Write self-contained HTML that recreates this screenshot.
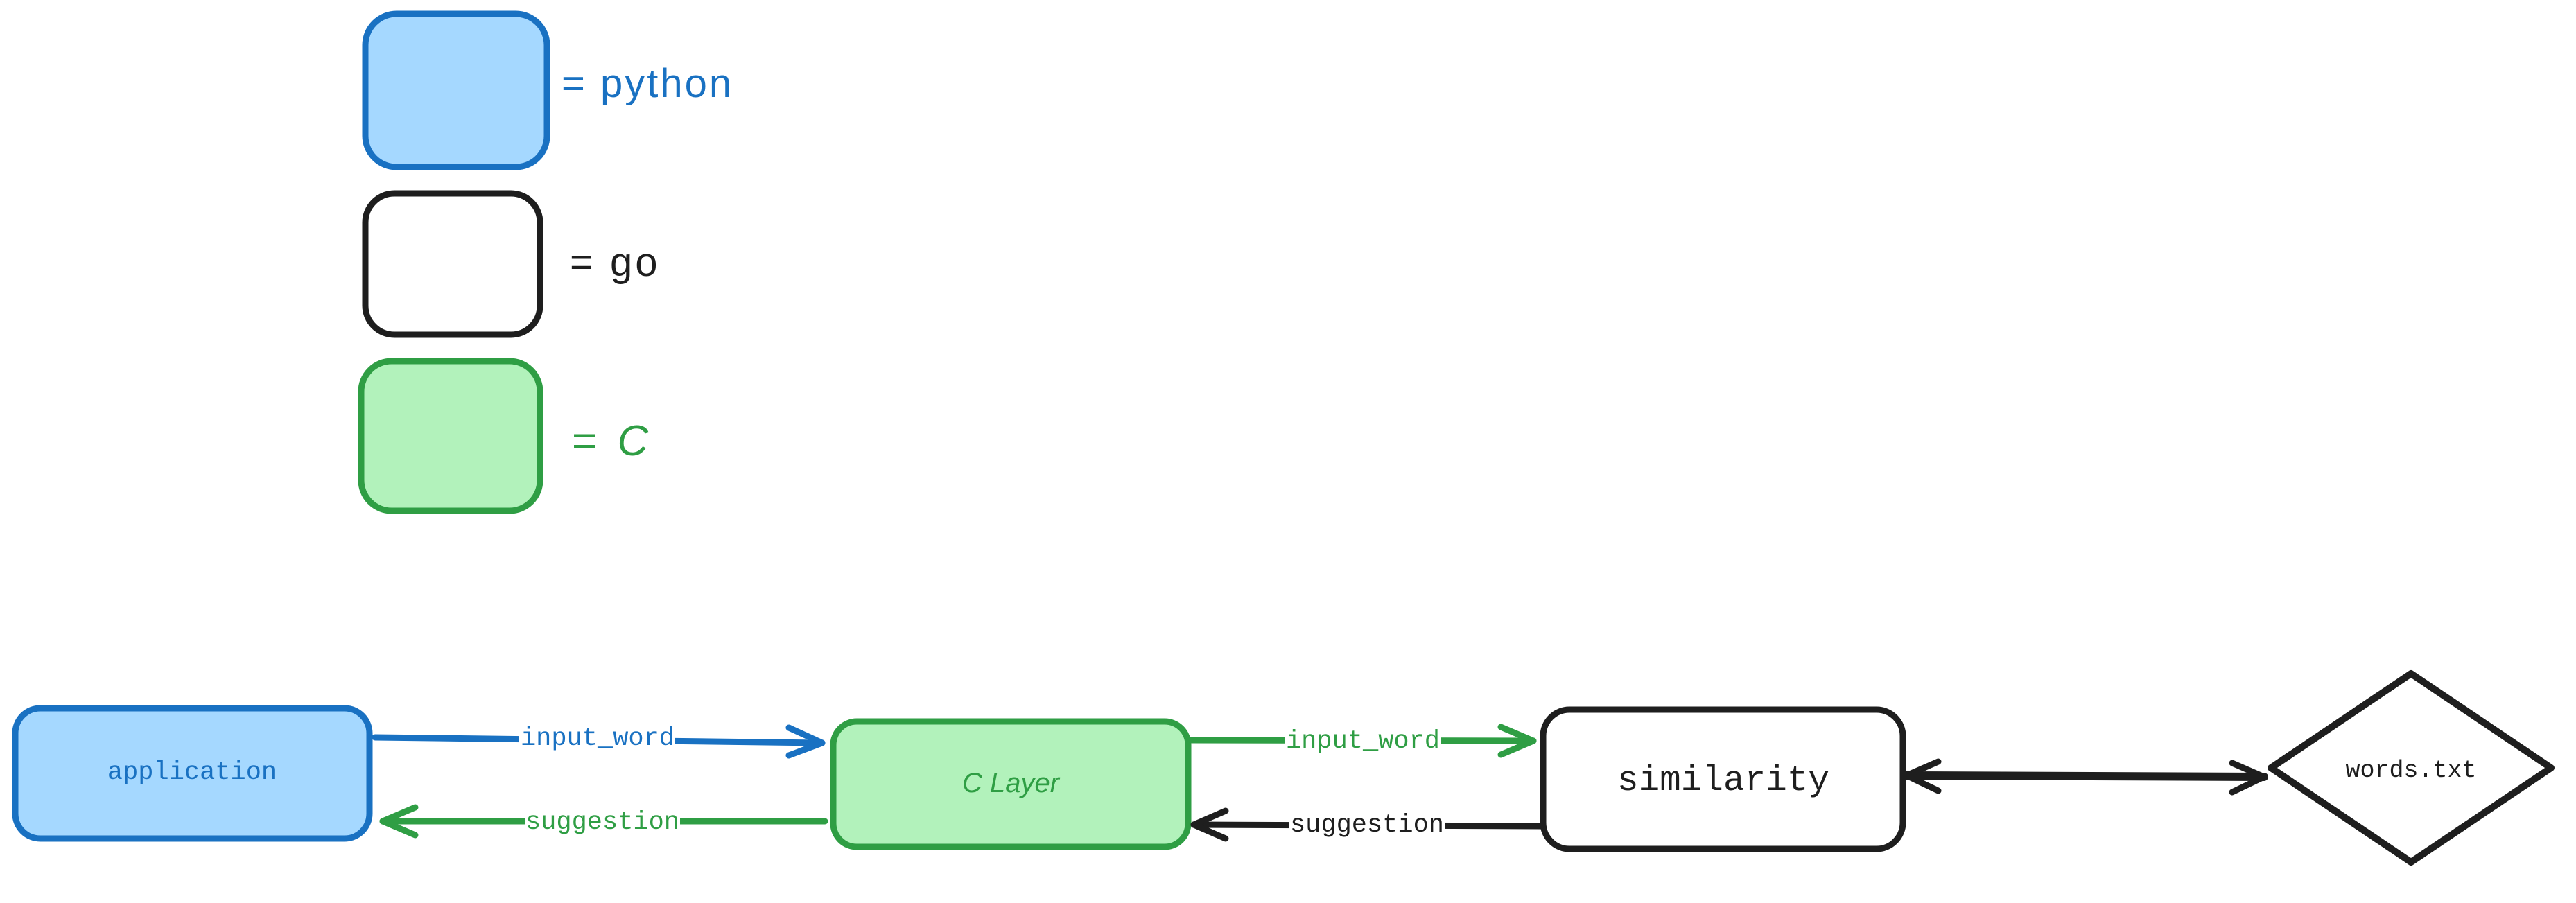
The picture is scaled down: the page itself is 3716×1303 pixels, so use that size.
<!DOCTYPE html>
<html><head><meta charset="utf-8"><style>
html,body{margin:0;padding:0;background:#fff;}
svg{display:block;}
</style></head><body>
<svg width="3716" height="1303" viewBox="0 0 3716 1303" xmlns="http://www.w3.org/2000/svg">
<g stroke-linecap="round" stroke-linejoin="round" fill="none">
<rect x="527" y="20" width="262" height="221" rx="45" fill="#a5d8ff" stroke="#1971c2" stroke-width="9"/>
<rect x="527" y="279" width="252" height="204" rx="42" fill="#fff" stroke="#1e1e1e" stroke-width="9"/>
<rect x="521" y="521" width="258" height="216" rx="44" fill="#b2f2bb" stroke="#2f9e44" stroke-width="9"/>
<rect x="22" y="1022" width="511" height="188" rx="36" fill="#a5d8ff" stroke="#1971c2" stroke-width="9"/>
<rect x="1202" y="1041" width="512" height="181" rx="34" fill="#b2f2bb" stroke="#2f9e44" stroke-width="9"/>
<rect x="2226" y="1024" width="519" height="201" rx="38" fill="#fff" stroke="#1e1e1e" stroke-width="9"/>
<polygon points="3478,972 3680,1108 3478,1244 3276,1108" fill="#fff" stroke="#1e1e1e" stroke-width="10"/>
<g stroke="#1971c2" stroke-width="9">
<path d="M541 1064 L1186 1072"/><path d="M1138 1050 L1186 1072 L1138 1090"/>
</g>
<g stroke="#2f9e44" stroke-width="9">
<path d="M1190 1185 L552 1185"/><path d="M599 1165 L552 1185 L599 1205"/>
<path d="M1718 1068 L2212 1069"/><path d="M2165 1049 L2212 1069 L2165 1089"/>
</g>
<g stroke="#1e1e1e" stroke-width="9">
<path d="M2223 1192 L1722 1190"/><path d="M1768 1170 L1722 1190 L1768 1210"/>
<path d="M2750 1119 L3266 1121" stroke-width="12"/>
<path d="M2796 1099 L2750 1119 L2796 1141"/><path d="M3220 1101 L3266 1121 L3220 1143"/>
</g>
</g>
<g fill="#fff">
<rect x="748" y="1040" width="226" height="50"/>
<rect x="757" y="1160" width="224" height="50"/>
<rect x="1853" y="1044" width="226" height="50"/>
<rect x="1860" y="1164" width="224" height="50"/>
</g>
<g font-family="Liberation Mono, monospace" font-size="37" text-anchor="middle">
<text x="862" y="1075" fill="#1971c2">input_word</text>
<text x="869" y="1196" fill="#2f9e44">suggestion</text>
<text x="1966" y="1079" fill="#2f9e44">input_word</text>
<text x="1972" y="1200" fill="#1e1e1e">suggestion</text>
<text x="277" y="1124" fill="#1971c2">application</text>
<text x="3478" y="1121" fill="#1e1e1e" font-size="35">words.txt</text>
<text x="2486" y="1140" fill="#1e1e1e" font-size="51">similarity</text>
</g>
<g font-family="Liberation Sans, sans-serif">
<text x="1458" y="1143" fill="#2f9e44" font-size="40" text-anchor="middle" font-style="italic">C Layer</text>
<text x="810" y="140" fill="#1971c2" font-size="58" letter-spacing="3">= python</text>
<text x="822" y="398" fill="#1e1e1e" font-size="58" letter-spacing="4">= go</text>
<text x="825" y="657" fill="#2f9e44" font-size="62" letter-spacing="6">= <tspan font-style="italic">C</tspan></text>
</g>
</svg>
</body></html>
